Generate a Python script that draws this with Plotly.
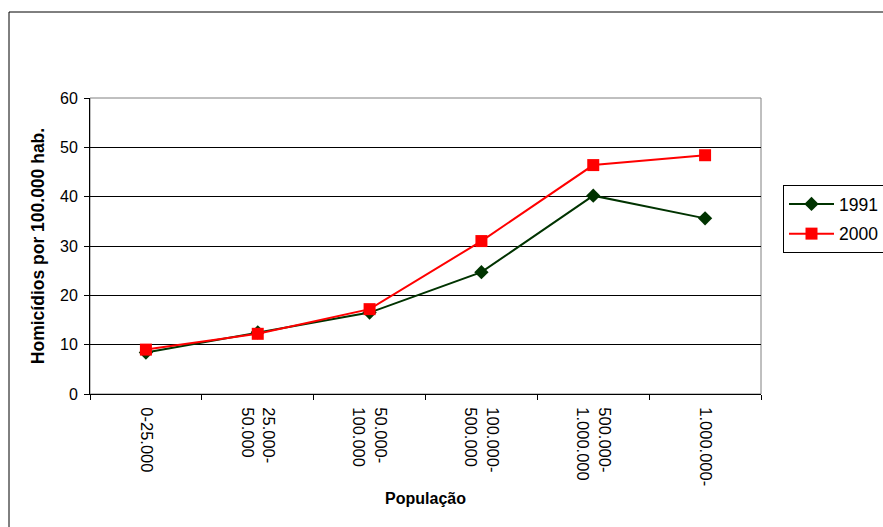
import plotly.graph_objects as go

# Population size classes (municipalities) and homicide rates per 100,000 inhabitants
categories = ["0-25.000", "25.000-<br>50.000", "50.000-<br>100.000",
              "100.000-<br>500.000", "500.000-<br>1.000.000", "1.000.000-"]
rate_1991 = [8.4, 12.5, 16.5, 24.7, 40.2, 35.6]
rate_2000 = [9.0, 12.2, 17.2, 31.0, 46.4, 48.4]

W, H = 883, 527
L, R, T, B = 90, 122, 98, 133

FONT = "Liberation Sans, Arial, sans-serif"

fig = go.Figure()
fig.add_trace(go.Scatter(
    x=categories, y=rate_1991, name="1991", mode="lines+markers",
    legendgroup="a",
    line=dict(color="#003300", width=2),
    marker=dict(symbol="diamond", size=11, color="#003300"),
))
fig.add_trace(go.Scatter(
    x=categories, y=rate_2000, name="2000", mode="lines+markers",
    legendgroup="b",
    line=dict(color="#FF0000", width=2),
    marker=dict(symbol="square", size=12, color="#FF0000"),
))

pw = W - L - R
ph = H - T - B

fig.update_layout(
    width=W, height=H,
    margin=dict(l=L, r=R, t=T, b=B, pad=0),
    paper_bgcolor="white", plot_bgcolor="white",
    font=dict(family=FONT, size=13, color="black"),
    showlegend=True,
    legend=dict(
        xref="container", yref="container",
        x=783 / W, y=1 - 185 / H, xanchor="left", yanchor="top",
        bordercolor="black", borderwidth=1, bgcolor="white",
        font=dict(size=17.5, family=FONT),
        traceorder="grouped", tracegroupgap=4, itemwidth=45,
    ),
    xaxis=dict(
        type="category", range=[-0.5, 5.5],
        tickson="boundaries", ticks="outside", ticklen=5, tickcolor="black",
        showline=True, linecolor="black", linewidth=1,
        showgrid=False, tickangle=90, ticklabelstandoff=9,
        tickfont=dict(size=16.5, family=FONT),
        title=dict(text="<b>População</b>", font=dict(size=16, family=FONT), standoff=7),
    ),
    yaxis=dict(
        range=[0, 60], dtick=10, ticks="outside", ticklen=5, tickcolor="black",
        showline=True, linecolor="black", linewidth=1,
        showgrid=True, gridcolor="black", gridwidth=1,
        zeroline=False, ticklabelstandoff=3,
        tickfont=dict(size=16, family=FONT),
        title=dict(text="<b>Homicídios por 100.000 hab.</b>", font=dict(size=17.5, family=FONT), standoff=10),
    ),
)

# grey frame of the plot area
fig.add_shape(type="rect", xref="paper", yref="paper", x0=0, x1=1, y0=0, y1=1,
              line=dict(color="#808080", width=1), layer="below")
# outer chart frame
fig.add_shape(type="rect", xref="paper", yref="paper",
              x0=(9 - L) / pw, x1=(W + 20 - L) / pw,
              y0=-(H + 20 - (H - B)) / ph, y1=((H - B) - 12) / ph,
              line=dict(color="black", width=1))

fig.write_html("out.html")
